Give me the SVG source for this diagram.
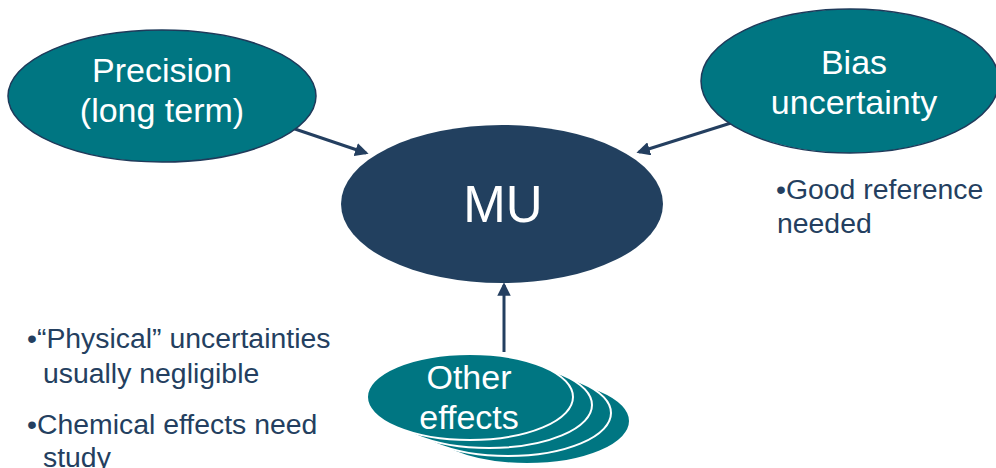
<svg xmlns="http://www.w3.org/2000/svg" width="996" height="468" viewBox="0 0 996 468">
<defs>
<style>
.teal{fill:#007682;stroke:#1f3a5a;stroke-width:1.5}
.stack{fill:#007682;stroke:#ffffff;stroke-width:2}
.wt{fill:#ffffff;font-family:"Liberation Sans",Arial,sans-serif;font-size:34px;text-anchor:middle}
.nt{fill:#243f60;font-family:"Liberation Sans",Arial,sans-serif;font-size:28.4px}
.conn{stroke:#243f60;stroke-width:3;fill:none;marker-end:url(#ah)}
</style>
<marker id="ah" viewBox="0 0 10 10" refX="8" refY="5" markerWidth="4.5" markerHeight="4.5" orient="auto" markerUnits="strokeWidth">
<path d="M0,0 L10,5 L0,10 z" fill="#243f60"/>
</marker>
</defs>
<rect width="996" height="468" fill="#ffffff"/>
<g id="connectors">
<line class="conn" x1="292" y1="128" x2="366" y2="153"/>
<line class="conn" x1="731" y1="123" x2="639" y2="152"/>
<line class="conn" x1="504" y1="352" x2="504" y2="285"/>
</g>
<g id="precision">
<ellipse class="teal" cx="162" cy="96" rx="154" ry="66"/>
<text class="wt" x="162" y="82">Precision</text>
<text class="wt" x="162" y="122">(long term)</text>
</g>
<g id="bias">
<ellipse class="teal" cx="850" cy="81" rx="149" ry="72"/>
<text class="wt" x="854" y="74">Bias</text>
<text class="wt" x="854" y="114">uncertainty</text>
</g>
<g id="mu">
<ellipse cx="502" cy="204" rx="161" ry="79" fill="#22405f"/>
<text class="wt" x="503" y="222" style="font-size:51px">MU</text>
</g>
<g id="other">
<ellipse class="stack" cx="527" cy="421" rx="103" ry="43"/>
<ellipse class="stack" cx="508" cy="413" rx="103" ry="43"/>
<ellipse class="stack" cx="489" cy="405" rx="103" ry="43"/>
<ellipse class="stack" cx="470" cy="397" rx="103" ry="43"/>
<text class="wt" x="469" y="389">Other</text>
<text class="wt" x="469" y="429">effects</text>
</g>
<g id="notes-right">
<text class="nt" x="776" y="199">•Good reference</text>
<text class="nt" x="777" y="233">needed</text>
</g>
<g id="notes-left">
<text class="nt" x="27" y="348">•“Physical” uncertainties</text>
<text class="nt" x="43" y="383">usually negligible</text>
<text class="nt" x="27" y="434">•Chemical effects need</text>
<text class="nt" x="43" y="467">study</text>
</g>
</svg>
